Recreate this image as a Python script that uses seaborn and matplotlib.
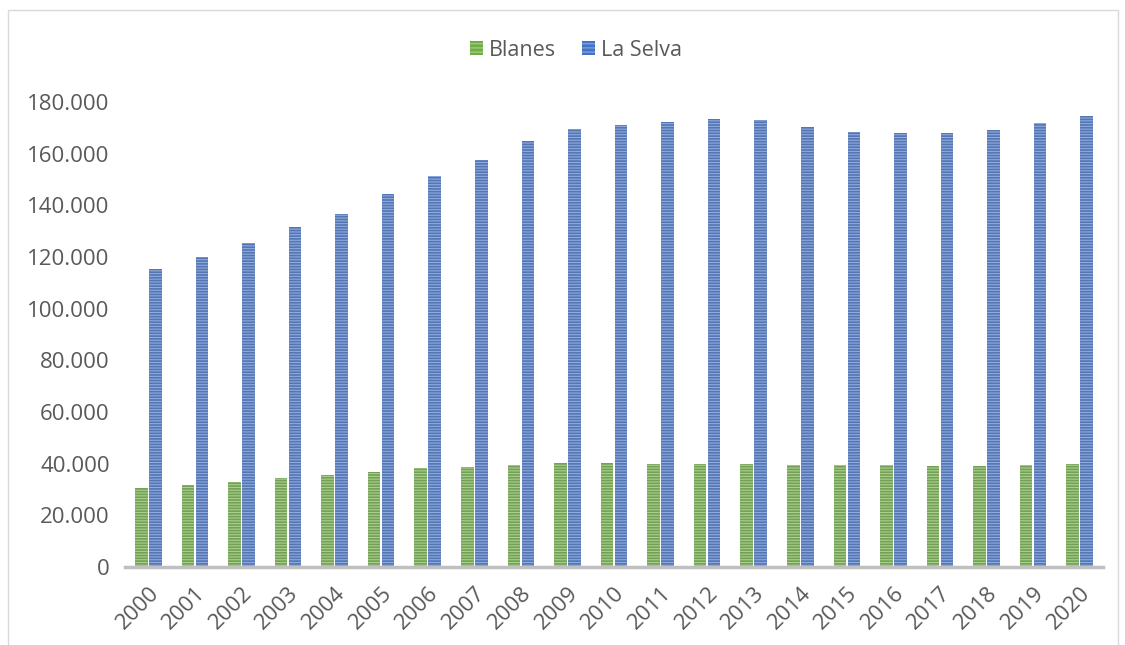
import pandas as pd
import matplotlib
matplotlib.use("Agg")
import matplotlib.pyplot as plt
import seaborn as sns
from matplotlib.patches import Rectangle
from matplotlib.ticker import FuncFormatter

# Data
years = [str(y) for y in range(2000, 2021)]
blanes = [30500, 31700, 33000, 34500, 35700, 36700, 38300, 38700, 39500, 40300,
          40200, 40000, 40000, 39700, 39500, 39400, 39400, 39000, 39000, 39400, 39900]
la_selva = [115500, 119900, 125300, 131800, 136700, 144300, 151300, 157600, 164800, 169500,
            171100, 172200, 173400, 173100, 170200, 168500, 167900, 168100, 169100, 171800, 174700]
series_names = ["Blanes", "La Selva"]
colors = {"Blanes": "#70AD47", "La Selva": "#4472C4"}
hatch_colors = {"Blanes": "#A9D18E", "La Selva": "#8FAADC"}

df = pd.DataFrame({
    "year": years * 2,
    "value": blanes + la_selva,
    "series": ["Blanes"] * len(years) + ["La Selva"] * len(years),
})

sns.set_style("white")
plt.rcParams["font.family"] = ["Open Sans", "DejaVu Sans"]
plt.rcParams["hatch.linewidth"] = 0.8

fig = plt.figure(figsize=(11.25, 6.45), dpi=100)
ax = fig.add_axes([125 / 1125, 1 - 567 / 645, 978 / 1125, 465 / 645])

sns.barplot(data=df, x="year", y="value", hue="series", hue_order=series_names,
            palette=colors, width=0.6, gap=0.1, ax=ax, legend=False)

# striped texture like the original
for container, name in zip(ax.containers, series_names):
    for bar in container:
        bar.set_hatch("------")
        bar.set_edgecolor(hatch_colors[name])
        bar.set_linewidth(0)

ax.set_ylim(0, 180000)
ax.set_xlim(-0.5, len(years) - 0.5)
ax.set_yticks(range(0, 180001, 20000))
ax.yaxis.set_major_formatter(FuncFormatter(lambda v, p: f"{int(v):,}".replace(",", ".")))
ax.set_xlabel("")
ax.set_ylabel("")
ax.tick_params(axis="y", length=0, pad=11, labelsize=16, labelcolor="#595959")
ax.tick_params(axis="x", length=0, pad=11, labelsize=16, labelcolor="#595959")
plt.setp(ax.get_xticklabels(), rotation=45, ha="right", rotation_mode="anchor")

for s in ["top", "right", "left"]:
    ax.spines[s].set_visible(False)
ax.spines["bottom"].set_color("#BFBFBF")
ax.spines["bottom"].set_linewidth(2.5)

# legend
handles = [Rectangle((0, 0), 1, 1, facecolor=colors[n], edgecolor=hatch_colors[n],
                     hatch="----", linewidth=0) for n in series_names]
fig.legend(handles, series_names, loc="center", bbox_to_anchor=(0.512, 1 - 50 / 645),
           ncol=2, frameon=False, fontsize=15.5, labelcolor="#595959",
           handlelength=0.6, handleheight=0.6, handletextpad=0.3, columnspacing=1.2)

# chart area border
fig.patches.append(Rectangle((8 / 1125, -0.05), 1110 / 1125, 1 - 10 / 645 + 0.05,
                             transform=fig.transFigure, fill=False,
                             edgecolor="#D9D9D9", linewidth=1))

fig.savefig("out.png", dpi=100)
